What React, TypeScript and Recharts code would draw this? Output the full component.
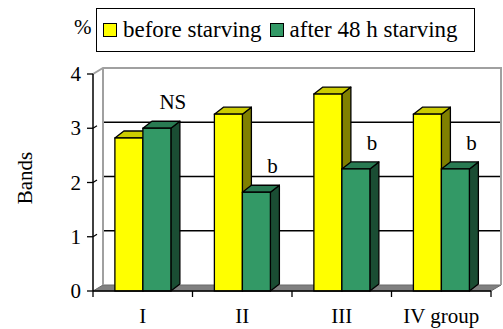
import React from 'react';
import { BarChart, Bar, XAxis, YAxis, CartesianGrid, Legend, LabelList, Label } from 'recharts';

// ---- data ----
const groups = ['I', 'II', 'III', 'IV group'];
const beforeStarving = [2.82, 3.26, 3.63, 3.26];
const after48h = [3.0, 1.82, 2.25, 2.25];
const significance = ['NS', 'b', 'b', 'b'];
const yTicks = [0, 1, 2, 3, 4];
const seriesNames = ['before starving', 'after 48 h starving'];
const yAxisTitle = 'Bands';
const yUnit = '%';

const data = groups.map((g, i) => ({
  group: g,
  before: beforeStarving[i],
  after: after48h[i],
  sig: significance[i],
}));

// ---- layout / style ----
const W = 503;
const H = 329;
const PLOT_LEFT = 93;
const PLOT_RIGHT = 491;
const PLOT_TOP = 74;
const PLOT_BOTTOM = 291;
const WALL_DX = 10;
const WALL_DY = -6;
const BAR_DX = 9;
const BAR_DY = -7;
const FONT = '"Liberation Serif", "Times New Roman", serif';
const TXT = { fontFamily: FONT, fontSize: 21 } as React.CSSProperties;
const YELLOW = { front: '#FFFF00', top: '#CCCC00', side: '#808000' };
const GREEN = { front: '#339966', top: '#297A52', side: '#1A4D33' };

const make3DBar = (c: { front: string; top: string; side: string }) => (props: any) => {
  const { x, y, width, height } = props;
  if (x == null || y == null || !width || height == null) return null;
  const r = x + width;
  const b = y + height;
  return (
    <g>
      <polygon
        points={`${r},${y} ${r + BAR_DX},${y + BAR_DY} ${r + BAR_DX},${b + BAR_DY} ${r},${b}`}
        fill={c.side}
        stroke="#000"
        strokeWidth={1.3}
        strokeLinejoin="round"
      />
      <polygon
        points={`${x},${y} ${x + BAR_DX},${y + BAR_DY} ${r + BAR_DX},${y + BAR_DY} ${r},${y}`}
        fill={c.top}
        stroke="#000"
        strokeWidth={1.3}
        strokeLinejoin="round"
      />
      <rect x={x} y={y} width={width} height={height} fill={c.front} stroke="#000" strokeWidth={1.3} />
    </g>
  );
};

const gridLine = (props: any) => {
  const { x1, x2, y1 } = props;
  const bx1 = x1 + WALL_DX;
  const bx2 = x2 + WALL_DX;
  const by = y1 + WALL_DY;
  if (Math.abs(y1 - PLOT_BOTTOM) < 1) {
    return (
      <g key={props.key}>
        <polygon
          points={`${x1},${y1} ${bx1},${by} ${bx2},${by} ${x2},${y1}`}
          fill="#808080"
          stroke="#6a6a6a"
          strokeWidth={1}
        />
      </g>
    );
  }
  if (Math.abs(y1 - PLOT_TOP) < 1) {
    return (
      <g key={props.key}>
        <polyline
          points={`${x1},${y1} ${bx1},${by} ${bx2},${by} ${bx2},${PLOT_BOTTOM + WALL_DY}`}
          fill="none"
          stroke="#a0a0a0"
          strokeWidth={2}
        />
        <line x1={bx1} y1={by} x2={bx1} y2={PLOT_BOTTOM + WALL_DY} stroke="#a0a0a0" strokeWidth={2} />
      </g>
    );
  }
  return (
    <g key={props.key}>
      <line x1={bx1} y1={by} x2={bx2} y2={by} stroke="#000" strokeWidth={1.3} />
      <line x1={x1} y1={y1} x2={x1 + 4} y2={y1 - 2.5} stroke="#000" strokeWidth={1.2} />
    </g>
  );
};

const XTick = (props: any) => {
  const { x, payload, index } = props;
  const half = (PLOT_RIGHT - PLOT_LEFT) / groups.length / 2;
  return (
    <g>
      <line x1={x - half} y1={PLOT_BOTTOM} x2={x - half} y2={PLOT_BOTTOM + 6} stroke="#000" strokeWidth={1.3} />
      {index === groups.length - 1 && (
        <line x1={x + half} y1={PLOT_BOTTOM} x2={x + half} y2={PLOT_BOTTOM + 6} stroke="#000" strokeWidth={1.3} />
      )}
      <text x={x} y={PLOT_BOTTOM + 32} textAnchor="middle" style={TXT} fill="#000">
        {payload.value}
      </text>
    </g>
  );
};

const YTick = (props: any) => {
  const { x, y, payload } = props;
  return (
    <text x={x} y={y + 7} textAnchor="end" style={TXT} fill="#000">
      {payload.value}
    </text>
  );
};

const SigLabel = (p: any) => {
  const vb = p.viewBox || {};
  const x = p.x ?? vb.x;
  const y = p.y ?? vb.y;
  const width = p.width ?? vb.width;
  if (x == null || y == null) return null;
  return (
    <text x={x + width + 2} y={y - 19} textAnchor="middle" style={TXT} fill="#000">
      {p.value}
    </text>
  );
};

const LegendContent = (props: any) => {
  const payload = (props.payload || []).slice();
  payload.sort((a: any, b: any) => seriesNames.indexOf(a.value) - seriesNames.indexOf(b.value));
  return (
    <div
      style={{
        width: 379,
        height: 44,
        border: '1.5px solid #000',
        boxSizing: 'border-box',
        background: '#fff',
        display: 'flex',
        alignItems: 'center',
        fontFamily: FONT,
        fontSize: 23,
        color: '#000',
        paddingLeft: 6,
        whiteSpace: 'nowrap',
      }}
    >
      {payload.map((e: any, i: number) => (
        <span key={i} style={{ display: 'flex', alignItems: 'center', marginRight: 8 }}>
          <span
            style={{
              display: 'inline-block',
              width: 14,
              height: 14,
              boxSizing: 'border-box',
              border: '1.5px solid #000',
              background: e.color,
              marginRight: 6,
            }}
          />
          <span>{e.value}</span>
        </span>
      ))}
    </div>
  );
};

export default function App() {
  return (
    <div style={{ position: 'absolute', left: 0, top: 0, width: W, height: H, background: '#fff' }}>
      <BarChart
        width={W}
        height={H}
        data={data}
        margin={{ top: PLOT_TOP, right: W - PLOT_RIGHT, bottom: 0, left: PLOT_LEFT - 60 }}
        barCategoryGap="22%"
        barGap={0}
      >
        <CartesianGrid vertical={false} horizontal={gridLine as any} />
        <XAxis
          dataKey="group"
          height={H - PLOT_BOTTOM}
          interval={0}
          tickLine={false}
          axisLine={{ stroke: '#000', strokeWidth: 1.5 }}
          tick={<XTick />}
        />
        <YAxis
          width={60}
          domain={[0, 4]}
          ticks={yTicks}
          interval={0}
          tickSize={6}
          tickMargin={6}
          tickLine={{ stroke: '#000', strokeWidth: 1.3 }}
          axisLine={{ stroke: '#000', strokeWidth: 1.5 }}
          tick={<YTick />}
        >
          <Label
            content={() => (
              <g>
                <text
                  x={25}
                  y={178}
                  transform="rotate(-90, 25, 178)"
                  textAnchor="middle"
                  dominantBaseline="central"
                  style={TXT}
                  fill="#000"
                >
                  {yAxisTitle}
                </text>
                <text x={74} y={34} style={TXT} fill="#000">
                  {yUnit}
                </text>
              </g>
            )}
          />
        </YAxis>
        <Legend
          layout="vertical"
          verticalAlign="middle"
          align="center"
          wrapperStyle={{ position: 'absolute', top: 8, left: 96, width: 379, height: 44 }}
          content={<LegendContent />}
        />
        <Bar
          dataKey="before"
          name={seriesNames[0]}
          fill={YELLOW.front}
          shape={make3DBar(YELLOW)}
          isAnimationActive={false}
        />
        <Bar
          dataKey="after"
          name={seriesNames[1]}
          fill={GREEN.front}
          shape={make3DBar(GREEN)}
          isAnimationActive={false}
        >
          <LabelList dataKey="sig" content={<SigLabel />} />
        </Bar>
      </BarChart>
    </div>
  );
}
